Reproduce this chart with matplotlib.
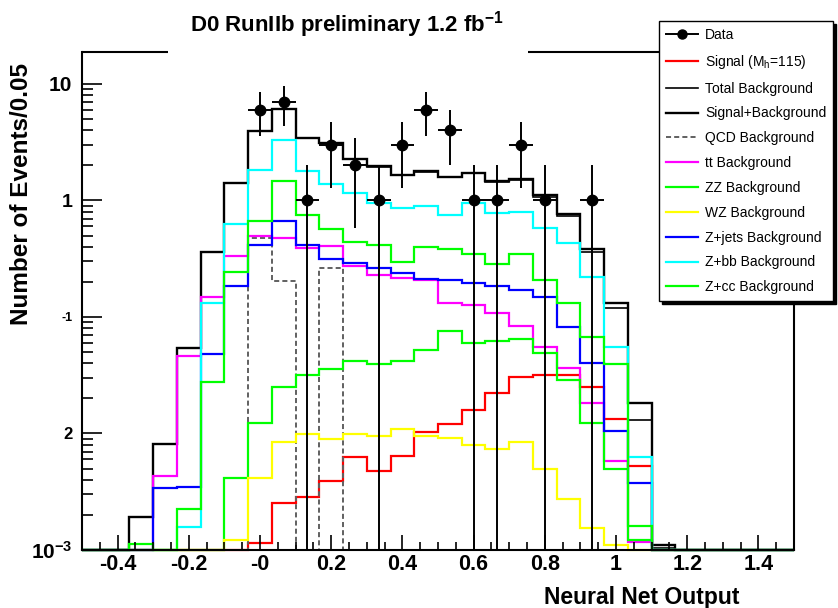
import numpy as np
import matplotlib
matplotlib.use("Agg")
import matplotlib.pyplot as plt
from matplotlib.lines import Line2D
from matplotlib.ticker import MultipleLocator, LogLocator, NullFormatter

plt.rcParams["font.family"] = ["Liberation Sans", "DejaVu Sans"]
plt.rcParams["mathtext.fontset"] = "custom"
plt.rcParams["mathtext.rm"] = "Liberation Sans"
plt.rcParams["mathtext.bf"] = "Liberation Sans:bold"
plt.rcParams["mathtext.it"] = "Liberation Sans:italic"

# Binning of the neural-network output
n_bins = 30
x_lo, x_hi = -0.5, 1.5

# Per-bin yields (events per bin)
data = [0, 0, 0, 0, 0, 0, 0, 6, 7, 1, 3, 2, 1, 3, 6, 4, 1, 1, 3, 1, 0, 1,
        0, 0, 0, 0, 0, 0, 0, 0]
signal = [0, 0, 0, 0, 0, 0, 0, 0.00114, 0.00255, 0.00283, 0.00391, 0.00625,
          0.00476, 0.00646, 0.0102, 0.0121, 0.0159, 0.0224, 0.0308, 0.032,
          0.0318, 0.0252, 0.0133, 0.00526, 0, 0, 0, 0, 0, 0]
total_bkg = [0, 0, 0.00193, 0.00807, 0.0538, 0.364, 1.41, 3.95, 6.14, 3.42,
             3.10, 2.26, 1.95, 1.66, 1.77, 1.58, 1.71, 1.45, 1.50, 1.08, 0.741,
             0.359, 0.119, 0.0131, 0.00105, 0, 0, 0, 0, 0]
sig_plus_bkg = [0, 0, 0.00193, 0.00807, 0.0538, 0.364, 1.41, 3.95, 6.15, 3.43,
                3.11, 2.27, 1.96, 1.67, 1.78, 1.60, 1.73, 1.47, 1.53, 1.11, 0.77,
                0.384, 0.131, 0.0184, 0.0011, 0, 0, 0, 0, 0]
qcd = [0, 0, 0, 0, 0, 0, 0, 0.473, 0.204, 0, 0.265, 0, 0, 0, 0, 0, 0, 0, 0, 0,
       0, 0, 0, 0, 0, 0, 0, 0, 0, 0]
ttbar = [0, 0, 0, 0.00431, 0.0462, 0.148, 0.334, 0.495, 0.473, 0.389, 0.409,
         0.274, 0.23, 0.215, 0.208, 0.133, 0.127, 0.109, 0.0838, 0.0549,
         0.0363, 0.0184, 0.00585, 0.00118, 0, 0, 0, 0, 0, 0]
zz = [0, 0, 0, 0, 0, 0, 0.00412, 0.0124, 0.0252, 0.0318, 0.0356, 0.0419,
      0.0393, 0.0419, 0.0521, 0.0758, 0.0594, 0.0618, 0.0644, 0.0488, 0.0288,
      0.01225, 0.00493, 0.00122, 0, 0, 0, 0, 0, 0]
wz = [0, 0, 0, 0, 0, 0, 0.00122, 0.00412, 0.0085, 0.00984, 0.00891, 0.00984,
      0.00952, 0.01087, 0.00952, 0.0091, 0.00796, 0.00736, 0.0085, 0.00493,
      0.00274, 0.00153, 0.0011, 0, 0, 0, 0, 0, 0, 0]
zjets = [0, 0, 0, 0.00339, 0.00345, 0.0481, 0.186, 0.415, 0.667, 0.415, 0.313,
         0.292, 0.265, 0.237, 0.212, 0.208, 0.195, 0.186, 0.171, 0.147, 0.0817,
         0.0405, 0.0105, 0.00374, 0, 0, 0, 0, 0, 0]
zbb = [0, 0, 0, 0, 0.00158, 0.133, 0.628, 1.83, 3.31, 1.79, 1.39, 1.17, 0.957,
       0.867, 0.897, 0.751, 0.946, 0.776, 0.802, 0.585, 0.43, 0.222, 0.0556,
       0.00625, 0, 0, 0, 0, 0, 0]
zcc = [0, 0, 0.00112, 0, 0.00223, 0.0279, 0.245, 0.671, 1.48, 0.751, 0.566,
       0.443, 0.415, 0.295, 0.397, 0.384, 0.347, 0.285, 0.347, 0.208, 0.131,
       0.0678, 0.0393, 0.0016, 0, 0, 0, 0, 0, 0]

legend_labels = ["Data", "Signal (M$_{\\mathregular{h}}$=115)", "Total Background",
                 "Signal+Background", "QCD Background", "tt Background",
                 "ZZ Background", "WZ Background", "Z+jets Background",
                 "Z+bb Background", "Z+cc Background"]

x_tick_values = [-0.4, -0.2, 0.0, 0.2, 0.4, 0.6, 0.8, 1.0, 1.2, 1.4]
x_tick_labels = ["-0.4", "-0.2", "-0", "0.2", "0.4", "0.6", "0.8", "1", "1.2", "1.4"]
y_tick_values = [1e-3, 1e-2, 1e-1, 1, 10]
y_tick_labels = ["10$^{\\mathbf{-3}}$", "2", "-1", "1", "10"]
y_tick_sizes = [15, 12, 9, 14, 15]

y_lo, y_hi = 1e-3, 18.8

edges = np.linspace(x_lo, x_hi, n_bins + 1)
centers = 0.5 * (edges[:-1] + edges[1:])
half_width = 0.5 * np.diff(edges)

fig = plt.figure(figsize=(8.38, 6.08), dpi=100)
fig.patch.set_facecolor("white")
ax = fig.add_axes([82 / 838, 58 / 608, 712 / 838, 498 / 608])
ax.set_yscale("log")
ax.set_xlim(x_lo, x_hi)
ax.set_ylim(y_lo, y_hi)

# histogram styles, drawn in this order (later ones on top)
hist_series = [
    (signal, dict(color="#ff0000", lw=1.6)),
    (total_bkg, dict(color="black", lw=1.2)),
    (sig_plus_bkg, dict(color="black", lw=1.7)),
    (qcd, dict(color="#606060", lw=1.4, linestyle=(0, (2.6, 1.6)))),
    (ttbar, dict(color="#ff00ff", lw=1.6)),
    (zz, dict(color="#00ff00", lw=1.6)),
    (wz, dict(color="#ffff00", lw=1.6)),
    (zjets, dict(color="#0000ff", lw=1.6)),
    (zbb, dict(color="#00ffff", lw=1.6)),
    (zcc, dict(color="#00ff00", lw=1.6)),
]

handles = [Line2D([], [], color="black", lw=1.4, marker="o", ms=6.5)]
for values, style in hist_series:
    v = np.clip(np.asarray(values, float), y_lo, None)
    ax.stairs(v, edges, baseline=None, fill=False, clip_on=False, **style)
    handles.append(Line2D([], [], **style))

# data points with Poisson errors
counts = np.asarray(data, float)
has = counts > 0
ax.errorbar(centers[has], counts[has], yerr=np.sqrt(counts[has]), xerr=half_width[has],
            fmt="o", color="black", ms=7.5, elinewidth=1.4, capsize=0, zorder=10)

# frame: top edge is interrupted by the title box
ax.spines["top"].set_visible(False)
for s in ["left", "bottom", "right"]:
    ax.spines[s].set_linewidth(1.5)
ax.plot([0, 0.1208], [1, 1], transform=ax.transAxes, color="black", lw=1.5,
        clip_on=False, solid_capstyle="butt")
ax.plot([0.6264, 1], [1, 1], transform=ax.transAxes, color="black", lw=1.5,
        clip_on=False, solid_capstyle="butt")

# ticks
ax.set_xticks(x_tick_values, x_tick_labels)
ax.xaxis.set_minor_locator(MultipleLocator(0.05))
ax.set_yticks(y_tick_values, y_tick_labels)
ax.yaxis.set_minor_locator(LogLocator(base=10, subs=np.arange(2, 10)))
ax.yaxis.set_minor_formatter(NullFormatter())
ax.tick_params(which="both", direction="in", top=False, right=False, width=1.2)
ax.tick_params(axis="x", which="major", length=10.8, pad=3)
ax.tick_params(axis="x", which="minor", length=5.8)
ax.tick_params(axis="y", which="major", length=14.4, pad=7)
ax.tick_params(axis="y", which="minor", length=8)
for lab in ax.get_xticklabels():
    lab.set_fontsize(15.5)
    lab.set_fontweight("bold")
for lab, fs in zip(ax.get_yticklabels(), y_tick_sizes):
    lab.set_fontsize(fs)
    lab.set_fontweight("bold")

ax.set_xlabel("Neural Net Output", fontsize=16.5, fontweight="bold", ha="center", va="center")
ax.xaxis.set_label_coords(0.7865, -0.0944)
ax.set_ylabel("Number of Events/0.05", fontsize=17.5, fontweight="bold", ha="center", va="center")
ax.yaxis.set_label_coords(-0.0847, 0.714)

fig.text(347 / 838, 1 - 25 / 608, "D0 RunIIb preliminary 1.2 fb$^{\\mathbf{-1}}$",
         fontsize=16, fontweight="bold", ha="center", va="center")

leg = fig.legend(handles, legend_labels, loc="upper left",
                 bbox_to_anchor=(659 / 838, 1 - 21 / 608), fontsize=10,
                 handlelength=2.3, handletextpad=0.5, borderpad=0.5,
                 labelspacing=0.78, borderaxespad=0, frameon=True, fancybox=False,
                 framealpha=1, edgecolor="black",
                 shadow={"color": "black", "alpha": 1})
leg.get_frame().set_linewidth(1.0)

fig.savefig("out.png", dpi=100, facecolor="white")
